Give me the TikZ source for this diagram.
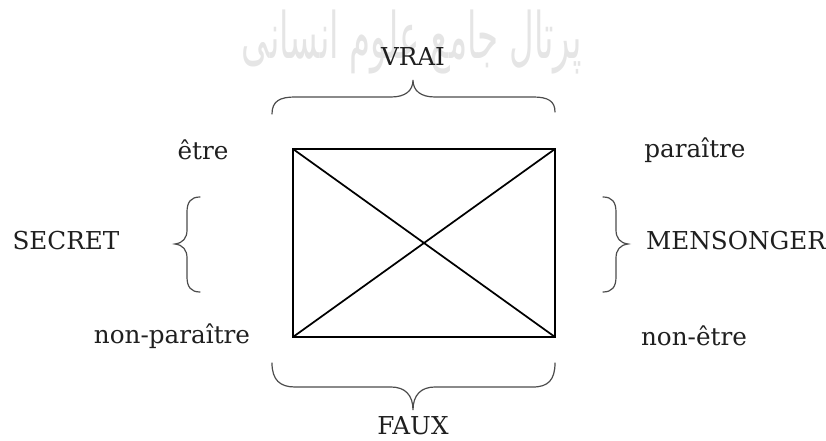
\documentclass[tikz,border=0pt]{standalone}
\usepackage{fontspec}
\setmainfont{DejaVu Serif}
\newfontfamily\arabicfont[Script=Arabic]{DejaVu Sans}
\TeXXeTstate=1
\begin{document}
\begin{tikzpicture}[x=0.75pt,y=-0.75pt,
  lbl/.style={font=\fontsize{18.5}{20}\selectfont, inner sep=0pt, text=black!88},
  bracepath/.style={line width=0.9pt, draw=black!70, line cap=round},
  boxline/.style={line width=1.3pt, black}]
\useasboundingbox (0,0) rectangle (826,441);
% watermark
\node[text=black!10, inner sep=0pt, font=\fontsize{30}{30}\selectfont, xscale=0.85, yscale=1.6] (wm) at (412,42) {\arabicfont\beginR پرتال جامع علوم انسانی\endR};
% square
\coordinate (A) at (293,149);
\coordinate (B) at (555,149);
\coordinate (C) at (555,337);
\coordinate (D) at (293,337);
\draw[boxline] (A) -- (B) -- (C) -- (D) -- cycle;
\draw[boxline] (A) -- (C);
\draw[boxline] (B) -- (D);
% labels
\node[lbl] (vrai) at (413,57) {VRAI};
\node[lbl] (faux) at (413,426) {FAUX};
\node[lbl] (etre) at (203,150) {être};
\node[lbl] (parai) at (695,150) {paraître};
\node[lbl] (nonpar) at (172,336) {non-paraître};
\node[lbl] (nonetre) at (694,336) {non-être};
\node[lbl] (secret) at (66,241) {SECRET};
\node[lbl] (mens) at (736,241) {MENSONGER};
% top brace
\draw[bracepath] (272,114) .. controls (272,101) and (280,97) .. (295,97) -- (391,97)
  .. controls (405,97) and (413,91) .. (413,80)
  .. controls (413,91) and (421,97) .. (435,97) -- (533,97)
  .. controls (548,97) and (555,101) .. (555,112);
% bottom brace
\draw[bracepath] (272,363) .. controls (272,380) and (280,387) .. (295,387) -- (391,387)
  .. controls (405,387) and (413,395) .. (413,410)
  .. controls (413,395) and (421,387) .. (435,387) -- (533,387)
  .. controls (548,387) and (555,380) .. (555,363);
% left brace
\draw[bracepath] (200,197) .. controls (191,197) and (187,202) .. (187,212) -- (187,230)
  .. controls (187,238) and (183,243) .. (175,244)
  .. controls (183,245) and (187,250) .. (187,258) -- (187,277)
  .. controls (187,287) and (191,292) .. (200,292);
% right brace
\draw[bracepath] (603,197) .. controls (612,197) and (616,202) .. (616,212) -- (616,230)
  .. controls (616,238) and (620,243) .. (628,244)
  .. controls (620,245) and (616,250) .. (616,258) -- (616,277)
  .. controls (616,287) and (612,292) .. (603,292);
\end{tikzpicture}
\end{document}
